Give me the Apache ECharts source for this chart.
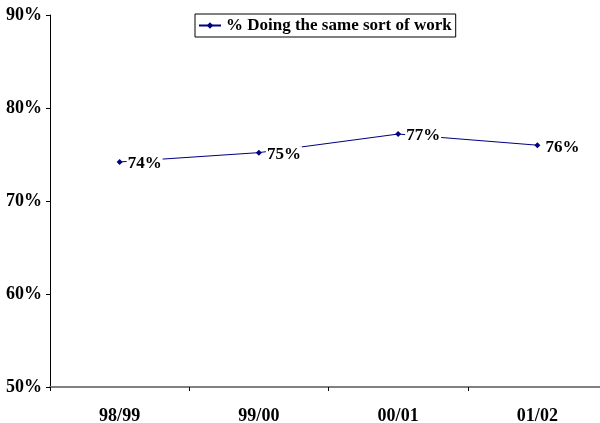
<!DOCTYPE html>
<html>
<head>
<meta charset="utf-8">
<script src="https://cdn.jsdelivr.net/npm/echarts@6/dist/echarts.min.js"></script>
<style>html,body{margin:0;padding:0;background:#fff;overflow:hidden;}#c{width:600px;height:423px;}</style>
</head>
<body>
<div id="c"></div>
<script>
const categories = ['98/99', '99/00', '00/01', '01/02'];
const seriesName = '% Doing the same sort of work';
const values = [74.2, 75.2, 77.2, 76.0];
const yMin = 50, yMax = 90, yStep = 10;

const FONT = '"Liberation Serif", "Times New Roman", serif';
const chart = echarts.init(document.getElementById('c'), null, {renderer: 'canvas'});
chart.setOption({
  animation: false,
  backgroundColor: '#ffffff',
  grid: {left: 50, width: 557, top: 15, height: 372, containLabel: false, outerBoundsMode: 'none'},
  legend: {
    data: [seriesName],
    left: 195, top: 14,
    padding: [3, 4, 3, 3],
    borderColor: '#000', borderWidth: 1,
    itemWidth: 22, itemHeight: 8, itemGap: 4,
    textStyle: {fontFamily: FONT, fontWeight: 'bold', fontSize: 17, color: '#000'}
  },
  xAxis: {
    type: 'category', data: categories, boundaryGap: true,
    axisLine: {lineStyle: {color: '#808080', width: 2}},
    axisTick: {show: true, length: 4, lineStyle: {color: '#000'}},
    axisLabel: {margin: 20, fontFamily: FONT, fontWeight: 'bold', fontSize: 18, color: '#000'}
  },
  yAxis: {
    type: 'value', min: yMin, max: yMax, interval: yStep,
    splitLine: {show: false},
    axisLine: {show: true, lineStyle: {color: '#000', width: 1}},
    axisTick: {show: true, length: 4, lineStyle: {color: '#000'}},
    axisLabel: {margin: 8, formatter: '{value}%', fontFamily: FONT, fontWeight: 'bold', fontSize: 18, color: '#000'}
  },
  series: [{
    name: seriesName, type: 'line', data: values,
    color: '#000080',
    lineStyle: {color: '#000080', width: 1},
    symbol: 'diamond', symbolSize: 6,
    itemStyle: {color: '#000080'},
    label: {
      show: true, position: 'right', distance: 4,
      formatter: p => Math.round(p.value) + '%',
      backgroundColor: '#ffffff', padding: [0, 1],
      fontFamily: FONT, fontWeight: 'bold', fontSize: 17, color: '#000', offset: [0, 2]
    }
  }]
});
</script>
</body>
</html>
